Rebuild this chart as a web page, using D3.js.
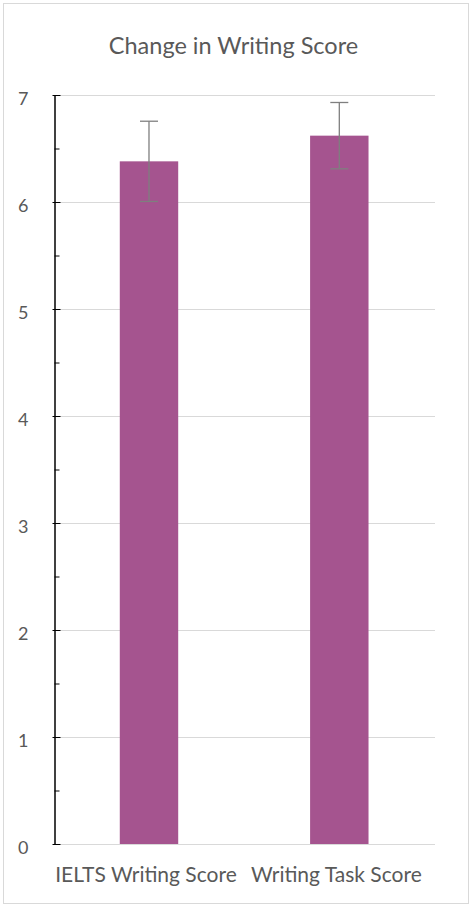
<!DOCTYPE html>
<html>
<head>
<meta charset="utf-8">
<title>Change in Writing Score</title>
<style>
  body { margin: 0; background: #fff; }
  text { font-family: Lato, "Open Sans", sans-serif; fill: #595959; }
</style>
</head>
<body>
<div id="chart"></div>
<script src="https://d3js.org/d3.v7.min.js"></script>
<script>
const categories = ['IELTS Writing Score', 'Writing Task Score'];
const means = [6.38, 6.62];
const errors = [0.375, 0.31];
const yTicks = [0, 1, 2, 3, 4, 5, 6, 7];

const data = categories.map((c, i) => ({ name: c, mean: means[i], err: errors[i] }));

const width = 471;
const height = 906;
const margin = { top: 95, bottom: 62, left: 54.5, right: 36 };

const svg = d3.select('#chart')
  .append('svg')
  .attr('width', width)
  .attr('height', height);

// chart border
svg.append('rect')
  .attr('x', 3.5).attr('y', 3.5)
  .attr('width', width - 6).attr('height', height - 6)
  .attr('fill', 'white')
  .attr('stroke', '#d9d9d9');

const x = d3.scaleBand()
  .domain(categories)
  .range([margin.left, 433.8])
  .paddingInner(0.693)
  .paddingOuter(0.343);

const y = d3.scaleLinear()
  .domain([0, 7])
  .range([height - margin.bottom, margin.top]);

// gridlines
svg.append('g')
  .attr('transform', `translate(${margin.left},0)`)
  .call(d3.axisLeft(y).tickValues(yTicks).tickSize(-(width - margin.right - margin.left)).tickFormat(''))
  .call(g => g.select('.domain').remove())
  .call(g => g.selectAll('line').attr('stroke', '#d9d9d9'));

// bars
svg.append('g')
  .attr('fill', '#a5548f')
  .selectAll('rect')
  .data(data)
  .join('rect')
  .attr('x', d => x(d.name))
  .attr('y', d => y(d.mean))
  .attr('width', x.bandwidth())
  .attr('height', d => y(0) - y(d.mean));

// error bars
const eb = svg.append('g')
  .attr('stroke', '#7f7f7f')
  .attr('stroke-width', 1.3)
  .selectAll('g')
  .data(data)
  .join('g')
  .attr('transform', d => `translate(${x(d.name) + x.bandwidth() / 2},0)`);

eb.append('line')
  .attr('y1', d => y(d.mean + d.err))
  .attr('y2', d => y(d.mean - d.err));
eb.append('line')
  .attr('x1', -9).attr('x2', 9)
  .attr('y1', d => y(d.mean + d.err))
  .attr('y2', d => y(d.mean + d.err));
eb.append('line')
  .attr('x1', -9).attr('x2', 9)
  .attr('y1', d => y(d.mean - d.err))
  .attr('y2', d => y(d.mean - d.err));

// minor ticks
svg.append('g')
  .attr('transform', `translate(${margin.left},0)`)
  .call(d3.axisLeft(y).tickValues(d3.range(0.5, 7, 1)).tickSize(-5).tickFormat(''))
  .call(g => g.select('.domain').remove())
  .call(g => g.selectAll('line').attr('stroke', '#000'));

// y axis
svg.append('g')
  .attr('transform', `translate(${margin.left},0)`)
  .call(d3.axisLeft(y).tickValues(yTicks).tickFormat(d3.format('d'))
    .tickSizeInner(-6).tickSizeOuter(0).tickPadding(26))
  .call(g => g.select('.domain').attr('stroke', '#000').attr('stroke-width', 1.5))
  .call(g => g.selectAll('.tick line').attr('stroke', '#000').attr('x1', -2))
  .call(g => g.selectAll('.tick text')
    .attr('font-size', '18px')
    .attr('font-family', 'Lato, sans-serif')
    .attr('fill', '#595959')
    .attr('dy', '0.55em'));

// x axis labels
svg.append('g')
  .attr('transform', `translate(0,${height - margin.bottom})`)
  .call(d3.axisBottom(x).tickSize(0).tickPadding(23))
  .call(g => g.select('.domain').remove())
  .call(g => g.selectAll('.tick text')
    .attr('font-size', '21px')
    .attr('font-family', 'Lato, sans-serif')
    .attr('fill', '#595959')
    .attr('dx', '-3'));

// title
svg.append('text')
  .attr('x', 233.5)
  .attr('y', 54)
  .attr('text-anchor', 'middle')
  .attr('font-size', '23.5px')
  .text('Change in Writing Score');
</script>
</body>
</html>
